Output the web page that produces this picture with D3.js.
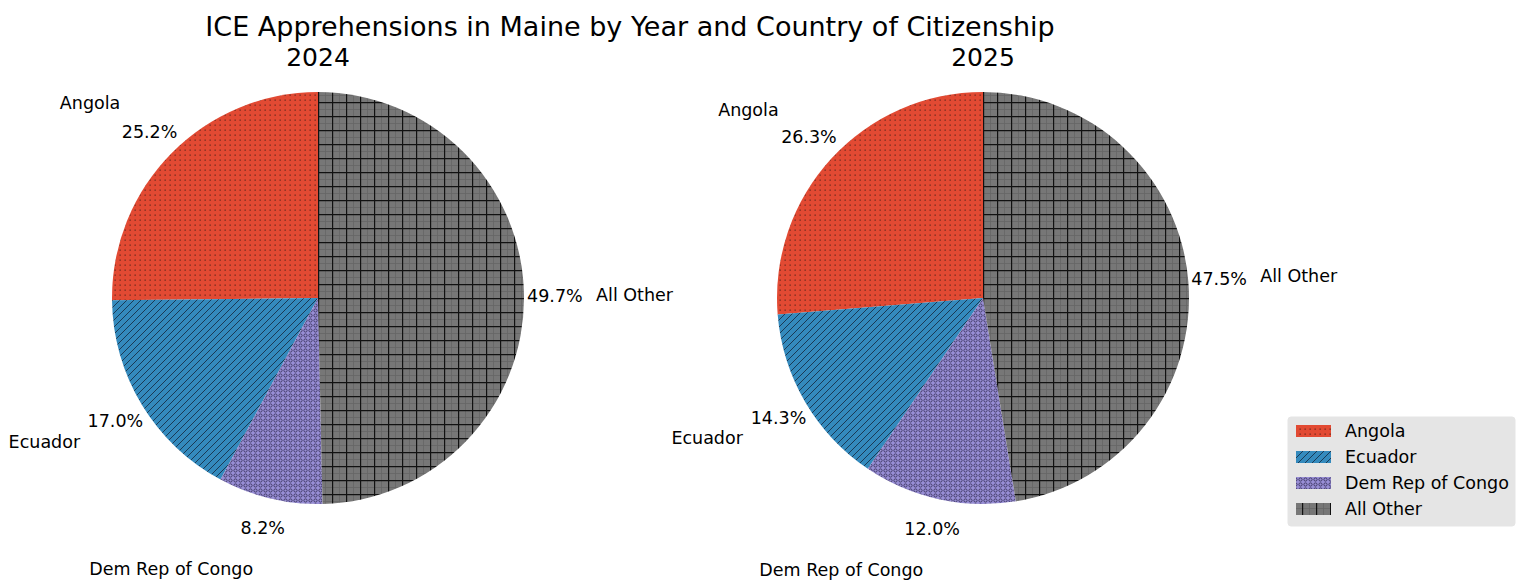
<!DOCTYPE html>
<html>
<head>
<meta charset="utf-8">
<script src="https://cdn.jsdelivr.net/npm/d3@7"></script>
<style>
  body { margin: 0; background: #fff; }
  svg { font-family: "DejaVu Sans", sans-serif; }
</style>
</head>
<body>
<div id="chart"></div>
<script>
const countries = ["Angola", "Ecuador", "Dem Rep of Congo", "All Other"];
const years = ["2024", "2025"];
const share2024 = [25.2, 17.0, 8.2, 49.7];
const share2025 = [26.3, 14.3, 12.0, 47.5];
const colors = ["#E24A33", "#348ABD", "#988ED5", "#777777"];
const patternIds = ["hatch-dots", "hatch-diag", "hatch-circles", "hatch-grid"];

const W = 1526, H = 581;
const svg = d3.select("#chart").append("svg")
    .attr("width", W)
    .attr("height", H);

// hatch patterns
const defs = svg.append("defs");

function addPattern(id, color, size, draw) {
    const p = defs.append("pattern")
        .attr("id", id)
        .attr("patternUnits", "userSpaceOnUse")
        .attr("width", size)
        .attr("height", size);
    p.append("rect").attr("width", size).attr("height", size).attr("fill", color);
    draw(p);
}

addPattern("hatch-dots", colors[0], 5, p => {
    p.append("rect").attr("x", 1.5).attr("y", 1.5).attr("width", 1.3).attr("height", 1.3)
        .attr("fill", "#3a1a12").attr("opacity", 0.7);
});
addPattern("hatch-diag", colors[1], 7, p => {
    p.append("path").attr("d", "M-1,8 L8,-1 M-1,1 L1,-1 M6,8 L8,6")
        .attr("stroke", "#1a3a55").attr("stroke-width", 1);
});
addPattern("hatch-circles", colors[2], 5, p => {
    p.append("circle").attr("cx", 2.5).attr("cy", 2.5).attr("r", 1.6)
        .attr("fill", "none").attr("stroke", "#2e2850").attr("stroke-width", 0.8);
});
addPattern("hatch-grid", colors[3], 14, p => {
    p.append("path").attr("d", "M7.5,0 V14 M0,7.5 H14")
        .attr("stroke", "#444").attr("stroke-width", 0.8).attr("opacity", 0.35);
    p.append("path").attr("d", "M0.5,0 V14 M0,0.5 H14")
        .attr("stroke", "#111").attr("stroke-width", 1.4);
});

svg.append("text")
    .attr("x", 630).attr("y", 36)
    .attr("text-anchor", "middle")
    .attr("font-size", 27)
    .attr("fill", "#000")
    .text("ICE Apprehensions in Maine by Year and Country of Citizenship");

const radius = 206;
const labelDist = 1.35, pctDist = 1.15;
const labelSize = 17.5;

function drawPie(cx, cy, year, values) {
    const g = svg.append("g").attr("transform", `translate(${cx},${cy})`);

    // matplotlib style: start at 90 deg, go counter-clockwise
    const pie = d3.pie().sort(null)
        .startAngle(0).endAngle(-2 * Math.PI);
    const arcs = pie(values);
    const arc = d3.arc().innerRadius(0).outerRadius(radius);

    g.selectAll("path.slice")
        .data(arcs)
        .enter().append("path")
        .attr("class", "slice")
        .attr("d", arc)
        .attr("fill", (d, i) => `url(#${patternIds[i]})`);

    arcs.forEach((d, i) => {
        const mid = (d.startAngle + d.endAngle) / 2; // d3 angle: 0 at top, clockwise
        const ux = Math.sin(mid), uy = -Math.cos(mid);
        const lx = ux * radius * labelDist, ly = uy * radius * labelDist;
        g.append("text")
            .attr("x", lx).attr("y", ly)
            .attr("dy", "0.35em")
            .attr("text-anchor", lx < 0 ? "end" : "start")
            .attr("font-size", labelSize)
            .text(countries[i]);
        g.append("text")
            .attr("x", ux * radius * pctDist).attr("y", uy * radius * pctDist)
            .attr("dy", "0.35em")
            .attr("text-anchor", "middle")
            .attr("font-size", labelSize)
            .text(values[i].toFixed(1) + "%");
    });

    svg.append("text")
        .attr("x", cx).attr("y", 66)
        .attr("text-anchor", "middle")
        .attr("font-size", 25)
        .text(year);
}

drawPie(318, 298, years[0], share2024);
drawPie(983, 298, years[1], share2025);

// legend
const legend = svg.append("g").attr("transform", "translate(1288,417)");
legend.append("rect")
    .attr("width", 227).attr("height", 109)
    .attr("rx", 3)
    .attr("fill", "#E5E5E5")
    .attr("stroke", "#E5E5E5");
countries.forEach((c, i) => {
    const y = 14 + i * 26;
    legend.append("rect")
        .attr("x", 8).attr("y", y - 6)
        .attr("width", 35).attr("height", 12)
        .attr("fill", `url(#${patternIds[i]})`);
    legend.append("text")
        .attr("x", 57).attr("y", y)
        .attr("dy", "0.35em")
        .attr("font-size", labelSize)
        .text(c);
});
</script>
</body>
</html>
